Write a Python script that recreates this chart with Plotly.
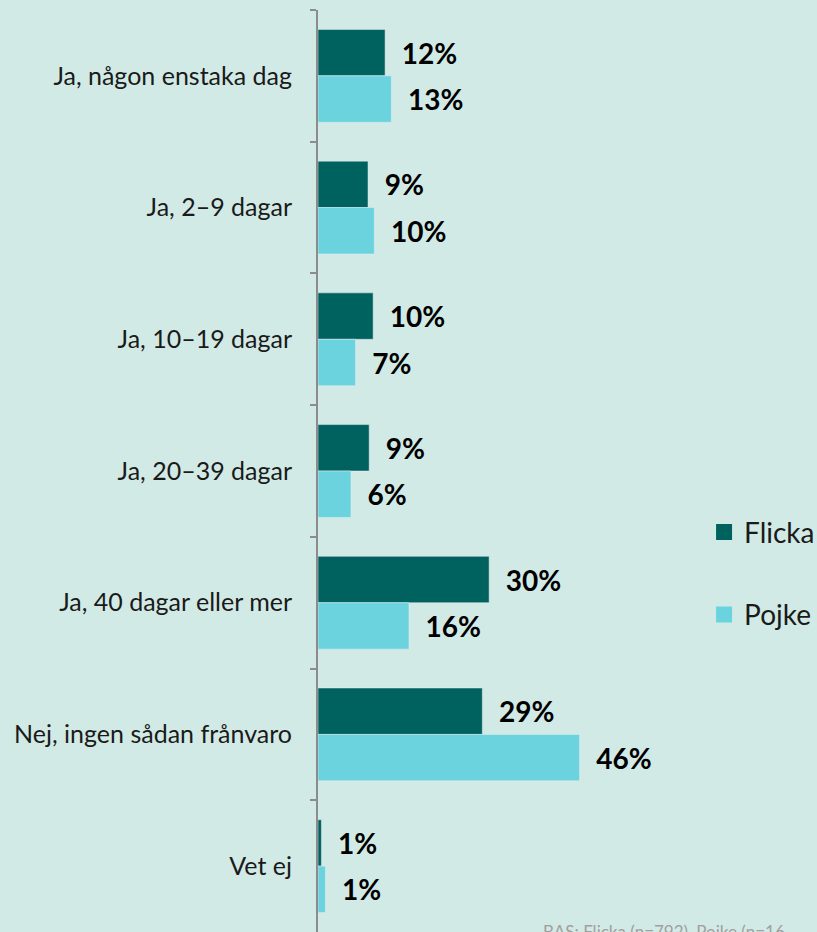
import plotly.graph_objects as go

categories = [
    "Ja, någon enstaka dag",
    "Ja, 2–9 dagar",
    "Ja, 10–19 dagar",
    "Ja, 20–39 dagar",
    "Ja, 40 dagar eller mer",
    "Nej, ingen sådan frånvaro",
    "Vet ej",
]
flicka = [11.8, 8.8, 9.7, 9.0, 30.1, 28.9, 0.6]
pojke = [12.9, 9.9, 6.6, 5.8, 16.0, 46.0, 1.3]
series_names = ["Flicka", "Pojke"]
footer = "BAS: Flicka (n=792), Pojke (n=16"

BG = "#d2eae6"
FONT = "Lato"
COLORS = ["#00625e", "#6bd3dd"]

fig = go.Figure()
for name, vals, col in zip(series_names, [flicka, pojke], COLORS):
    fig.add_trace(go.Bar(
        name=name, y=categories, x=vals, orientation="h",
        marker=dict(color=col),
        texttemplate="\u00a0\u00a0%{x:.0f}%", textposition="outside",
        textfont=dict(family=FONT, size=28, color="#000000", weight="bold"),
        cliponaxis=False, showlegend=False,
    ))
# legend entries (square swatches)
for name, col in zip(series_names, COLORS):
    fig.add_trace(go.Scatter(
        name=name, x=[None], y=[None], mode="markers",
        marker=dict(symbol="square", size=16, color=col),
        legendgroup=name, showlegend=True,
    ))

fig.update_layout(
    width=817, height=932,
    margin=dict(l=318, r=101, t=10, b=0, autoexpand=False),
    paper_bgcolor=BG, plot_bgcolor=BG,
    barmode="group", bargap=0.295, bargroupgap=0,
    font=dict(family=FONT, size=20, color="#1a1a1a"),
    showlegend=True,
    legend=dict(x=0.97, y=0.389, xanchor="left", yanchor="middle",
                font=dict(family=FONT, size=28, color="#1a1a1a"),
                tracegroupgap=43, bgcolor="rgba(0,0,0,0)",
                itemsizing="trace", itemwidth=30),
)
fig.update_yaxes(
    autorange="reversed", tickson="boundaries",
    ticks="outside", ticklen=6, tickcolor="#8c8c8c", tickwidth=2,
    showline=True, linecolor="#8c8c8c", linewidth=2,
    showgrid=False, zeroline=False, ticklabelstandoff=19,
    tickfont=dict(family=FONT, size=25, color="#1a1a1a"),
)
fig.update_xaxes(range=[0, 70], visible=False)
fig.add_annotation(
    text=footer, xref="paper", yref="paper", x=(541 - 318) / 398, y=(932 - 919) / 922,
    xanchor="left", yanchor="top", showarrow=False,
    font=dict(family=FONT, size=17, color="#a0a0a0"),
)
fig.write_html("out.html", config={"displayModeBar": False},
               post_script="document.body.style.margin='0';")
